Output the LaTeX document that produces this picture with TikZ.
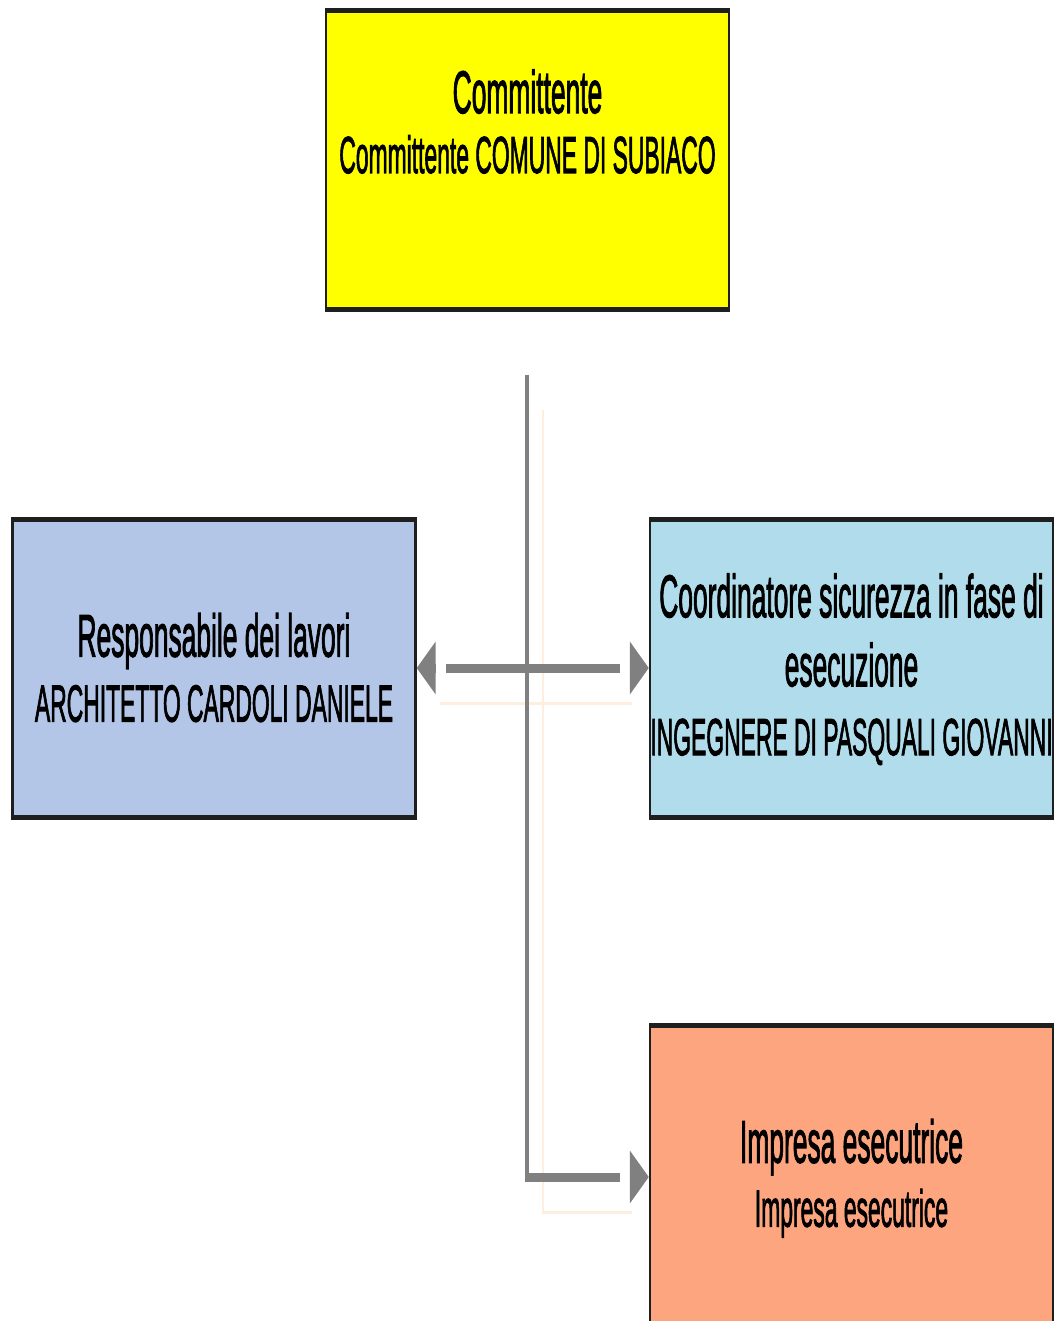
\documentclass[tikz,border=0pt]{standalone}
\usepackage{fontspec}
\setmainfont[FakeBold=2.4]{Liberation Sans}
\usetikzlibrary{arrows.meta}
\definecolor{cyel}{HTML}{FFFF00}
\definecolor{cresp}{HTML}{B3C6E7}
\definecolor{ccoord}{HTML}{B0DCEB}
\definecolor{cimpr}{HTML}{FCA57E}
\definecolor{cborder}{HTML}{1F1F1F}
\definecolor{cgray}{HTML}{808080}
\definecolor{cghost}{HTML}{FEEEE0}
\newcommand\mystrutA{\vrule width 0pt height 46pt depth 4pt}
\newcommand\mystrutB{\vrule width 0pt height 46pt depth 80pt}
\newcommand\fhead{\fontsize{60}{65}\selectfont}
\newcommand\fsubt{\fontsize{52}{65}\selectfont}
\tikzset{
  box/.style={draw=cborder, line width=5pt, rectangle, inner sep=0pt, align=center,
    minimum width=403pt/0.44, minimum height=298pt, text=black},
  conn/.style={draw=cgray, line width=9pt},
  tri/.tip={Triangle[length=43pt, width=50pt]},
  ghost/.style={draw=cghost, line width=3pt},
}
\begin{document}
\begin{tikzpicture}[x=1pt,y=-1pt]
\path[use as bounding box] (0,0) rectangle (1056,1321);
\clip (0,0) rectangle (1056,1321);
\begin{scope}[transform canvas={xscale=0.44}, x=2.272727pt, y=-1pt]
  % ghost lines
  \coordinate (g1) at (543,410);
  \coordinate (g2) at (543,1212);
  \coordinate (g3) at (632,1212);
  \coordinate (g4) at (440,703);
  \coordinate (g5) at (632,703);
  \draw[ghost] (g1) -- (g2) -- (g3);
  \draw[ghost] (g4) -- (g5);
  % boxes
  \node[box, fill=cyel, font=\fontsize{60}{60}\selectfont] (comm) at (527.5,160)
    {{\fhead\mystrutA Committente}\\{\fsubt\mystrutB Committente COMUNE DI SUBIACO}};
  \node[box, fill=cresp, font=\fontsize{60}{65}\selectfont] (resp) at (214,668)
    {{\fhead\mystrutA Responsabile dei lavori}\\{\fsubt\mystrutA ARCHITETTO CARDOLI DANIELE}};
  \node[box, fill=ccoord, font=\fontsize{60}{69}\selectfont] (coord) at (851.5,668)
    {{\fhead\mystrutA Coordinatore sicurezza in fase di}\\{\fhead\mystrutA esecuzione}\\{\fsubt\mystrutA\makebox[0pt]{INGEGNERE DI PASQUALI GIOVANNI}}};
  \node[box, fill=cimpr, minimum height=304pt, font=\fontsize{60}{64}\selectfont] (impr) at (851.5,1177)
    {{\fhead\mystrutA Impresa esecutrice}\\{\fsubt\mystrutA Impresa esecutrice}};
  % connectors
  \coordinate (vtop) at (527,375);
  \draw[conn, shorten <=66pt, shorten >=66pt] (resp.east) -- (coord.west);
  \draw[conn, -{tri}] ([xshift=43pt]resp.east) -- (resp.east);
  \draw[conn, -{tri}] ([xshift=-43pt]coord.west) -- (coord.west);
  \draw[conn, shorten >=66pt] (vtop) |- (impr.west);
  \draw[conn, -{tri}] ([xshift=-43pt]impr.west) -- (impr.west);
\end{scope}
\end{tikzpicture}
\end{document}
